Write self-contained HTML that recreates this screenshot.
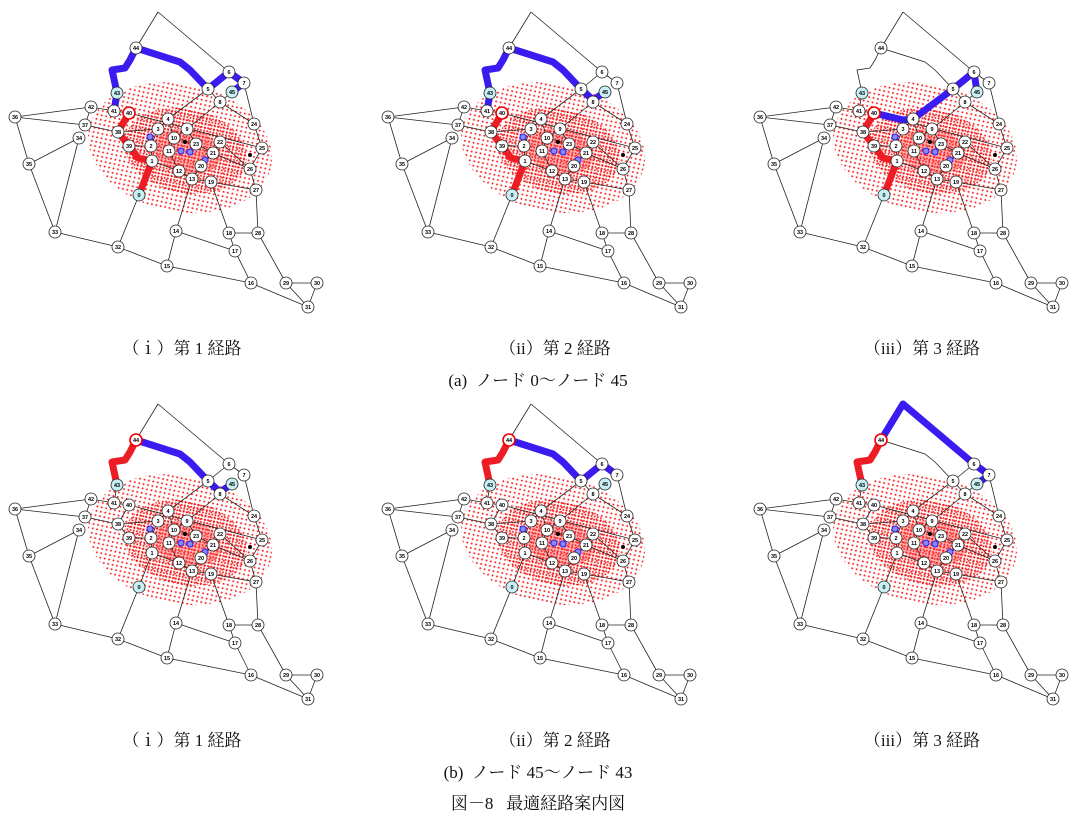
<!DOCTYPE html>
<html><head><meta charset="utf-8">
<style>
html,body{margin:0;padding:0;background:#fff;}
body{width:1082px;height:824px;position:relative;overflow:hidden;font-family:"Liberation Serif","Noto Serif CJK SC","Noto Sans CJK JP",serif;}
.cap{position:absolute;font-size:17px;color:#111;white-space:nowrap;transform:translateX(-50%);}
svg{position:absolute;left:0;top:0;}
</style></head>
<body>
<svg id="s" width="1082" height="824" xmlns="http://www.w3.org/2000/svg">
<defs>
<pattern id="d1" width="4.5" height="4.5" patternUnits="userSpaceOnUse"><circle cx="2.25" cy="2.25" r="1" fill="#f22"/></pattern>
<pattern id="d2" width="3.2" height="3.2" patternUnits="userSpaceOnUse"><circle cx="1.6" cy="1.6" r="1" fill="#e00"/></pattern>
</defs>
</svg>
<div class="cap" style="left:182px;top:334px">（ｉ）第 1 経路</div>
<div class="cap" style="left:555px;top:334px">（ii）第 2 経路</div>
<div class="cap" style="left:922px;top:334px">（iii）第 3 経路</div>
<div class="cap" style="left:538px;top:366px">(a)&nbsp; ノード 0～ノード 45</div>
<div class="cap" style="left:182px;top:726px">（ｉ）第 1 経路</div>
<div class="cap" style="left:555px;top:726px">（ii）第 2 経路</div>
<div class="cap" style="left:922px;top:726px">（iii）第 3 経路</div>
<div class="cap" style="left:538px;top:758px">(b)&nbsp; ノード 45～ノード 43</div>
<div class="cap" style="left:538px;top:789px">図－8&nbsp;&nbsp; 最適経路案内図</div>
<script>
var N={0:[139,195],1:[152,161],2:[151,146],3:[158,129],4:[168,119],5:[208,89],6:[229,72],7:[244,83],8:[220,102],9:[187,129],10:[174,138],11:[169,151],12:[179,171],13:[192,179],14:[176,231],15:[167,266],16:[251,283],17:[235,251],18:[229,233],19:[211,182],20:[201,166],21:[213,153],22:[220,142],23:[196,144],24:[254,124],25:[262,148],26:[250,169],27:[256,190],28:[258,233],29:[286,283],30:[317,283],31:[308,307],32:[118,247],33:[55,232],34:[79,138],35:[29,164],36:[15,117],37:[85,125],38:[118,132],39:[129,146],40:[129,113],41:[114,111],42:[91,107],43:[117,93],44:[136,48],45:[232,92]};
var E=[[44,'P'],['P',6],[5,6],[6,7],[7,24],[5,4],[5,8],[8,9],[8,24],[4,3],[4,10],[3,38],[3,2],[2,39],[2,1],[1,12],[1,0],[39,38],[38,40],[40,41],[41,42],[41,43],[42,36],[42,37],[37,36],[37,38],[36,35],[35,34],[35,33],[34,33],[33,32],[32,0],[32,15],[15,14],[15,16],[14,13],[14,17],[17,16],[17,18],[18,19],[18,28],[28,27],[28,29],[29,31],[29,30],[30,31],[31,16],[27,26],[27,19],[26,25],[25,24],[26,21],[12,13],[13,19],[13,20],[20,21],[21,22],[23,10],[23,21],[9,10],[9,23],[10,11],[11,12],[40,25],[22,26],[45,8]];
function P(k){return k==='P'?[158,12]:N[k];}
var Z=[[117,93],[112,70],[125,68],[130,60],[136,48]];
var Z2=[[136,48],[180,62],[190,70],[208,89]];
var R1=[[139,195],[152,161],[138,158],[129,146],[118,132],[129,113]];
var routes=[
 {dx:0,dy:0,red:R1,blue:[[114,111],[117,93]].concat(Z.slice(1),Z2.slice(1),[[229,72],[244,83],[232,92]]),rc:40},
 {dx:373,dy:0,red:R1,blue:[[114,111],[117,93]].concat(Z.slice(1),Z2.slice(1),[[220,100],[232,92]]),rc:40},
 {dx:745,dy:0,red:R1,blue:[[129,113],[158,120],[168,119],[208,89],[229,72],[232,92]],rc:40},
 {dx:0,dy:392,red:Z,blue:Z2.concat([[220,100],[232,92]]),rc:44},
 {dx:373,dy:392,red:Z,blue:Z2.concat([[229,72],[244,83]]),rc:44},
 {dx:745,dy:392,red:Z,blue:[[136,48],[158,12],[229,72],[244,83],[232,92]],rc:44}
];
var s=document.getElementById('s'),h='';
function pts(a,dx,dy){return a.map(function(p){return (p[0]+dx)+','+(p[1]+dy)}).join(' ');}
routes.forEach(function(r){
 var dx=r.dx,dy=r.dy,g='<g transform="translate('+dx+','+dy+')">';
 g+='<g transform="rotate(12 182 148)"><ellipse cx="180" cy="148" rx="93" ry="64" fill="url(#d1)"/><ellipse cx="186" cy="150" rx="62" ry="42" fill="url(#d2)" opacity="0.85"/><ellipse cx="188" cy="150" rx="34" ry="22" fill="#f33" opacity="0.35"/></g>';
 E.forEach(function(e){var a=P(e[0]),b=P(e[1]);g+='<line x1="'+a[0]+'" y1="'+a[1]+'" x2="'+b[0]+'" y2="'+b[1]+'" stroke="#222" stroke-width="0.8"/>';});
 g+='<polyline points="'+pts(Z,0,0)+'" fill="none" stroke="#222" stroke-width="0.8"/>';
 g+='<polyline points="'+pts(Z2,0,0)+'" fill="none" stroke="#222" stroke-width="0.8"/>';
 g+='</g>';
 g+='<polyline points="'+pts(r.red,dx,dy)+'" fill="none" stroke="#ee1c24" stroke-width="7" stroke-linejoin="round"/>';
 g+='<polyline points="'+pts(r.blue,dx,dy)+'" fill="none" stroke="#3a1cf0" stroke-width="7" stroke-linejoin="round"/>';
 g+='<g transform="translate('+dx+','+dy+')">';
 [[150,137],[181,151],[190,152],[205,160]].forEach(function(p){g+='<circle cx="'+p[0]+'" cy="'+p[1]+'" r="3" fill="#88f" stroke="#22f" stroke-width="1"/>';});
 [[185,142],[250,155]].forEach(function(p){g+='<circle cx="'+p[0]+'" cy="'+p[1]+'" r="2" fill="#000"/>';});
 for(var k in N){var p=N[k],f=(k=='0'||k=='43'||k=='45')?'#c8f0f4':'#fff',st=(k==r.rc)?'#e00':'#222',sw=(k==r.rc)?1.6:0.8;
  g+='<circle cx="'+p[0]+'" cy="'+p[1]+'" r="6" fill="'+f+'" stroke="'+st+'" stroke-width="'+sw+'"/>';
  g+='<text x="'+p[0]+'" y="'+(p[1]+2)+'" font-family="Liberation Sans,sans-serif" font-size="5.5" font-weight="bold" text-anchor="middle" fill="#000">'+k+'</text>';}
 g+='</g>';h+=g;});
s.insertAdjacentHTML('beforeend',h);
</script>
</body></html>
